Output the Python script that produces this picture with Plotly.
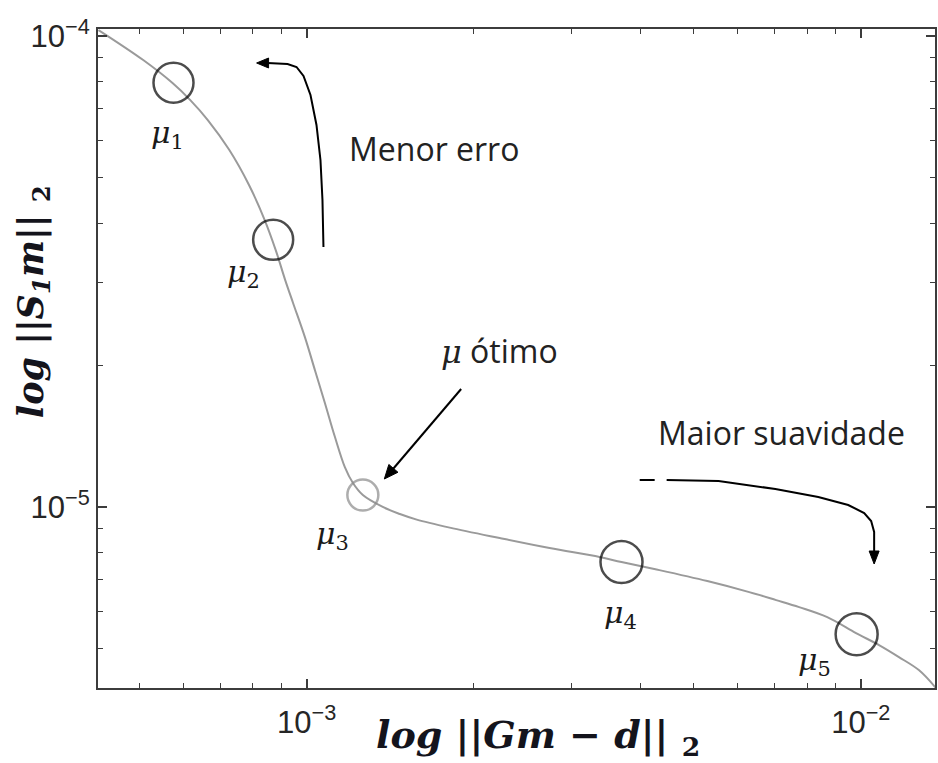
import math
import plotly.graph_objects as go

# L-curve: residual norm vs. seminorm of the regularised solution
residual_norm = [4.21e-4, 5.070e-4, 5.727e-4, 6.166e-4, 6.631e-4, 7.252e-4, 7.869e-4, 8.400e-4,
                 8.793e-4, 9.147e-4, 9.45e-4, 9.93e-4, 1.035e-3, 1.079e-3, 1.124e-3, 1.172e-3,
                 1.212e-3, 1.263e-3, 1.372e-3, 1.473e-3, 1.580e-3, 1.812e-3, 2.230e-3, 2.744e-3,
                 3.377e-3, 3.700e-3, 4.331e-3, 5.285e-3, 6.292e-3, 7.037e-3, 7.741e-3,
                 8.70e-3, 9.806e-3, 1.079e-2, 1.172e-2, 1.273e-2, 1.367e-2]
seminorm = [1.03e-4, 8.893e-5, 7.947e-5, 7.311e-5, 6.631e-5, 5.726e-5, 4.826e-5, 4.066e-5,
            3.510e-5, 3.031e-5, 2.71e-5, 2.29e-5, 1.95e-5, 1.66e-5, 1.41e-5, 1.214e-5,
            1.123e-5, 1.059e-5, 9.99e-6, 9.65e-6, 9.39e-6, 9.03e-6, 8.58e-6, 8.17e-6,
            7.82e-6, 7.63e-6, 7.336e-6, 6.953e-6, 6.588e-6, 6.335e-6, 6.121e-6,
            5.829e-6, 5.391e-6, 5.083e-6, 4.793e-6, 4.498e-6, 4.12e-6]

# Selected regularisation parameters along the curve
mu_names = ["1", "2", "3", "4", "5"]
mu_residual = [5.75e-4, 8.70e-4, 1.263e-3, 3.700e-3, 9.83e-3]
mu_seminorm = [7.96e-5, 3.69e-5, 1.059e-5, 7.63e-6, 5.36e-6]

# Axis ticks
x_major = [1e-3, 1e-2]
x_major_text = ["10<sup>−3</sup>", "10<sup>−2</sup>"]
x_minor = [5e-4, 6e-4, 7e-4, 8e-4, 9e-4, 2e-3, 3e-3, 4e-3, 5e-3, 6e-3, 7e-3, 8e-3, 9e-3]
y_major = [1e-5, 1e-4]
y_major_text = ["10<sup>−5</sup>", "10<sup>−4</sup>"]
y_minor = [5e-6, 6e-6, 7e-6, 8e-6, 9e-6, 2e-5, 3e-5, 4e-5, 5e-5, 6e-5, 7e-5, 8e-5, 9e-5]

W, H = 938, 763
ML, MR, MT, MB = 98, 1, 29, 75
PW, PH = W - ML - MR, H - MT - MB


def px(x):
    return (x - ML) / PW


def py(y):
    return (H - MB - y) / PH


def path(points, moves=()):
    parts = []
    for i, (x, y) in enumerate(points):
        cmd = "M" if i == 0 or i in moves else "L"
        parts.append(f"{cmd} {px(x):.5f},{py(y):.5f}")
    return " ".join(parts)


def head(tip, tail, length=13, half=5):
    dx, dy = tip[0] - tail[0], tip[1] - tail[1]
    n = math.hypot(dx, dy)
    ux, uy = dx / n, dy / n
    bx, by = tip[0] - ux * length, tip[1] - uy * length
    pts = [tip, (bx + uy * half, by - ux * half), (bx - uy * half, by + ux * half)]
    return path(pts) + " Z"


fig = go.Figure()

fig.add_trace(go.Scatter(
    x=residual_norm, y=seminorm, mode="lines",
    line=dict(color="#9a9a9a", width=2, shape="spline", smoothing=1.0),
    hoverinfo="skip", showlegend=False))

ring_colors = ["#000000", "#000000", "#8a8a8a", "#000000", "#000000"]
ring_sizes = [40, 40, 31, 42, 42]
fig.add_trace(go.Scatter(
    x=mu_residual, y=mu_seminorm, mode="markers",
    marker=dict(symbol="circle-open", size=ring_sizes, color=ring_colors, line=dict(width=2.5)),
    hoverinfo="skip", showlegend=False))

label_shift = [(-6, -52), (-30, -34), (-30, -40), (-1, -52), (-42, -27)]
for name, xv, yv, (dx, dy) in zip(mu_names, mu_residual, mu_seminorm, label_shift):
    fig.add_annotation(
        x=math.log10(xv), y=math.log10(yv), xref="x", yref="y", xshift=dx, yshift=dy,
        xanchor="center", yanchor="middle",
        text=f"<i>μ</i><sub>{name}</sub>", showarrow=False,
        font=dict(family="DejaVu Serif", size=30, color="#1a1a1a"))

# Curved arrows and their heads
arrow_up = [(324, 247), (323, 200), (321, 160), (317, 125), (311, 95), (304, 76), (297, 67), (288, 64), (268, 63)]
arrow_right = [(641, 480), (656, 480), (668, 480), (720, 481), (777, 489), (820, 497), (850, 505), (866, 513), (873, 521),
               (876, 532), (876, 552)]
shapes = [
    dict(type="path", xref="paper", yref="paper", path=path(arrow_up), line=dict(color="black", width=2)),
    dict(type="path", xref="paper", yref="paper", path=head((257, 63), (270, 63), 12, 5),
         fillcolor="black", line=dict(color="black", width=1)),
    dict(type="path", xref="paper", yref="paper", path=path(arrow_right, moves=(2,)),
         line=dict(color="black", width=2)),
    dict(type="path", xref="paper", yref="paper", path=head((876, 564), (876, 550), 13, 5),
         fillcolor="black", line=dict(color="black", width=1)),
    dict(type="path", xref="paper", yref="paper", path=path([(462, 389), (392, 471)]),
         line=dict(color="black", width=2)),
    dict(type="path", xref="paper", yref="paper", path=head((385, 479), (462, 389), 14, 6),
         fillcolor="black", line=dict(color="black", width=1)),
]


def note(x, y, text, font, **kw):
    fig.add_annotation(x=px(x), y=py(y), xref="paper", yref="paper", text=text, showarrow=False,
                       xanchor="center", yanchor="middle", font=font, **kw)


text_font = dict(family="Open Sans", size=32, color="#222222")
note(435, 148, "Menor erro", text_font)
note(500, 350, "<i><span style='font-family:DejaVu Serif'>μ</span></i> ótimo", text_font)
note(783, 432, "Maior suavidade", text_font)

note(539, 737, "<b><i>log ||Gm − d||</i> <sub>2</sub></b>",
     dict(family="DejaVu Serif", size=38, color="#14141c"))
note(33, 302, "<b><i>log ||S<sub>1</sub>m||</i> <sub>2</sub></b>",
     dict(family="DejaVu Serif", size=35, color="#14141c"), textangle=-90)

axis_common = dict(
    type="log", showgrid=False, zeroline=False, showline=True, linecolor="#3c3c3c", linewidth=2,
    mirror="allticks", ticks="inside", ticklen=9, tickwidth=1.5, tickcolor="#3c3c3c",
    tickfont=dict(family="Liberation Sans", size=31, color="#262626"), tickmode="array",
)

fig.update_layout(
    width=W, height=H, margin=dict(l=ML, r=MR, t=MT, b=MB),
    paper_bgcolor="white", plot_bgcolor="white", shapes=shapes,
    xaxis=dict(axis_common, range=[-3.3766, -1.866], tickvals=x_major, ticktext=x_major_text,
               ticklabelstandoff=6,
               minor=dict(tickvals=x_minor, ticks="inside", ticklen=5, tickcolor="#3c3c3c", tickwidth=1.2)),
    yaxis=dict(axis_common, range=[-5.385, -3.985], tickvals=y_major, ticktext=y_major_text,
               minor=dict(tickvals=y_minor, ticks="inside", ticklen=5, tickcolor="#3c3c3c", tickwidth=1.2)),
)

fig.write_html("out.html")
